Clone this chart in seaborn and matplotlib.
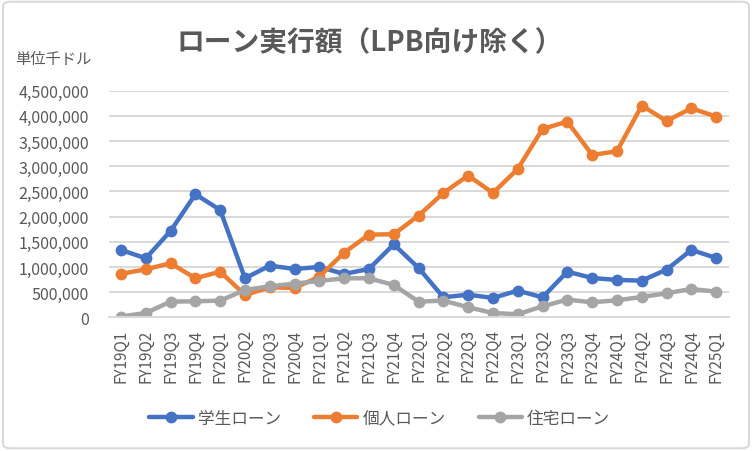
import pandas as pd
import seaborn as sns
import matplotlib.pyplot as plt
from matplotlib.patches import FancyBboxPatch
from matplotlib.ticker import FuncFormatter

quarters = [
    "FY19Q1", "FY19Q2", "FY19Q3", "FY19Q4", "FY20Q1", "FY20Q2", "FY20Q3", "FY20Q4",
    "FY21Q1", "FY21Q2", "FY21Q3", "FY21Q4", "FY22Q1", "FY22Q2", "FY22Q3", "FY22Q4",
    "FY23Q1", "FY23Q2", "FY23Q3", "FY23Q4", "FY24Q1", "FY24Q2", "FY24Q3", "FY24Q4",
    "FY25Q1",
]
student = [1338000, 1172000, 1715000, 2444000, 2132000, 775000, 1026000, 960000,
           1000000, 861000, 960000, 1450000, 980000, 397000, 450000, 384000,
           530000, 397000, 907000, 781000, 742000, 728000, 947000, 1338000, 1179000]
personal = [861000, 954000, 1073000, 775000, 907000, 444000, 596000, 583000,
            808000, 1285000, 1642000, 1650000, 2020000, 2470000, 2815000, 2470000,
            2947000, 3742000, 3887000, 3225000, 3298000, 4205000, 3900000, 4152000, 3987000]
housing = [15000, 86000, 311000, 318000, 331000, 543000, 616000, 669000,
           722000, 775000, 775000, 642000, 311000, 331000, 199000, 86000,
           60000, 219000, 351000, 298000, 338000, 404000, 477000, 563000, 510000]
series_names = ["学生ローン", "個人ローン", "住宅ローン"]
palette = ["#4472C4", "#ED7D31", "#A5A5A5"]

df = pd.concat([
    pd.DataFrame({"quarter": quarters, "amount": vals, "kind": name})
    for name, vals in zip(series_names, [student, personal, housing])
])

sns.set_style("white")
plt.rcParams["font.family"] = ["Noto Sans CJK JP", "DejaVu Sans"]
text_col = "#595959"

fig = plt.figure(figsize=(7.52, 4.52), dpi=100)
ax = fig.add_axes([0.1444, 0.2958, 0.8244, 0.5012])

sns.lineplot(data=df, x="quarter", y="amount", hue="kind", palette=palette,
             marker="o", markersize=8.5, markeredgewidth=0, linewidth=3.2,
             sort=False, ax=ax, legend=True)

ax.set_xlim(-0.5, len(quarters) - 0.5)
ax.set_ylim(0, 4500000)
ax.set_yticks(range(0, 4500001, 500000))
ax.yaxis.set_major_formatter(FuncFormatter(lambda v, p: f"{int(v):,}"))
ax.grid(axis="y", color="#D9D9D9", linewidth=1.4)
ax.set_axisbelow(True)
for s in ["top", "right", "left"]:
    ax.spines[s].set_visible(False)
ax.spines["bottom"].set_color("#D9D9D9")
ax.spines["bottom"].set_linewidth(1.4)
ax.tick_params(axis="y", length=0, labelsize=11.5, labelcolor=text_col, pad=14)
ax.tick_params(axis="x", length=0, labelsize=11, labelcolor=text_col, pad=8)
plt.setp(ax.get_xticklabels(), rotation=90)
ax.set_xlabel("")
ax.set_ylabel("")

handles, labels = ax.get_legend_handles_labels()
ax.get_legend().remove()
fig.legend(handles, labels, loc="center", bbox_to_anchor=(0.505, 0.072), ncol=3,
           frameon=False, fontsize=12, labelcolor=text_col, handlelength=2.6,
           columnspacing=2.0, handletextpad=0.3)

fig.text(0.492, 0.905, "ローン実行額（LPB向け除く）", ha="center", va="center",
         fontsize=20, fontweight="bold", color=text_col)
fig.text(0.02, 0.868, "単位千ドル", ha="left", va="center", fontsize=11, color=text_col)

fig.patches.append(FancyBboxPatch((0.004, 0.006), 0.992, 0.988, boxstyle="round,pad=0,rounding_size=0.01",
                                  transform=fig.transFigure, fill=False,
                                  edgecolor="#D9D9D9", linewidth=1.5))

fig.savefig("out.png", dpi=100)
